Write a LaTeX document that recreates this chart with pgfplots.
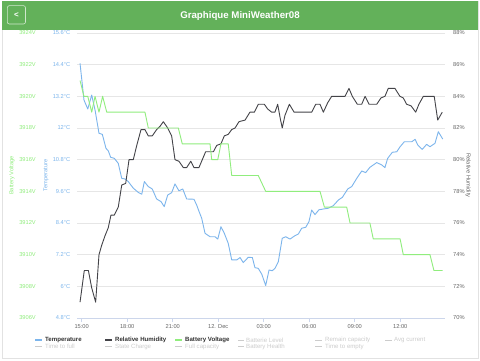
\documentclass[border=0pt]{standalone}
\usepackage{pgfplots}
\pgfplotsset{compat=1.18}
\usepackage{fontspec}
\setmainfont{Liberation Sans}
\definecolor{tempblue}{HTML}{7CB5EC}
\definecolor{humdark}{HTML}{434348}
\definecolor{battgreen}{HTML}{90ED7D}
\definecolor{gridgrey}{HTML}{E6E6E6}
\definecolor{axisline}{HTML}{CCD6EB}
\definecolor{labelgrey}{HTML}{666666}
\definecolor{hiddengrey}{HTML}{CCCCCC}
\definecolor{legtext}{HTML}{333333}
\definecolor{headergreen}{RGB}{99,177,90}
\definecolor{cardborder}{HTML}{E2E2E2}
\newcommand{\tickfont}{\fontsize{5.7}{6.5}\selectfont}
\newcommand{\legfont}{\fontsize{6.1}{7}\selectfont}

\pgfplotstableread{
h T
14.89 14.45
15.15 13.06
15.40 12.72
15.66 13.25
15.88 12.68
16.14 11.80
16.36 11.76
16.60 11.23
16.75 11.14
16.91 10.89
17.15 10.85
17.41 10.66
17.64 10.09
17.85 10.07
18.07 9.97
18.40 9.72
18.73 9.56
18.96 9.49
19.13 9.97
19.39 9.78
19.65 9.69
19.94 9.31
20.23 9.21
20.44 9.02
20.67 9.46
20.93 9.55
21.15 9.88
21.41 9.62
21.66 9.69
21.92 9.31
22.40 9.30
22.58 9.08
22.70 8.89
22.91 8.58
23.13 8.01
23.46 7.88
23.79 7.88
23.97 7.79
24.18 8.26
24.40 8.01
24.66 7.63
24.89 7.00
25.22 7.00
25.44 7.09
25.65 6.90
25.98 7.10
26.25 7.09
26.42 6.71
26.64 6.68
26.87 6.46
27.13 6.03
27.35 6.62
27.56 6.59
27.74 6.68
27.96 6.93
28.22 7.82
28.45 7.88
28.73 7.79
29.06 7.92
29.28 7.98
29.50 8.20
29.77 8.24
29.98 8.45
30.16 8.89
30.38 8.72
30.64 8.90
30.93 8.93
31.26 8.96
31.59 9.06
31.92 9.27
32.18 9.37
32.54 9.69
32.80 9.78
33.13 10.09
33.46 10.37
33.72 10.31
34.00 10.51
34.45 10.69
34.78 10.60
34.99 10.50
35.17 10.85
35.48 11.08
35.77 11.10
35.99 11.29
36.27 11.48
36.76 11.48
36.98 11.57
37.15 11.36
37.45 11.19
37.74 11.38
37.96 11.29
38.29 11.42
38.51 11.86
38.80 11.58
}\temptable

\pgfplotstableread{
h H
14.89 71.0
15.17 73.0
15.44 73.0
15.66 71.9
15.92 71.0
16.14 74.0
16.32 74.6
16.54 75.2
16.75 75.7
16.93 76.5
17.15 76.5
17.41 77.0
17.64 78.4
17.90 78.5
18.12 80.0
18.40 80.0
18.63 80.9
18.91 81.9
19.17 81.9
19.39 81.5
19.65 81.5
19.94 81.9
20.16 82.1
20.38 82.4
20.67 82.0
20.93 81.5
21.15 80.0
21.41 79.9
21.70 79.5
21.92 79.5
22.19 79.9
22.40 79.5
22.73 79.5
22.95 80.0
23.17 80.5
23.68 80.5
23.90 80.9
24.18 81.0
24.40 81.5
24.66 81.6
24.89 81.9
25.11 82.0
25.37 82.4
25.77 82.5
26.09 83.0
26.38 83.0
26.64 83.5
27.04 83.5
27.26 83.2
27.52 83.0
27.74 83.0
27.92 83.5
28.09 82.6
28.22 82.0
28.40 82.8
28.69 83.5
29.00 83.0
30.16 83.0
30.43 83.5
30.71 83.5
30.93 83.0
31.22 83.6
31.48 84.0
32.36 84.0
32.62 84.5
32.84 84.0
33.17 83.5
33.46 83.5
33.68 84.0
33.94 83.5
34.45 83.5
34.73 83.9
34.99 84.0
35.21 84.5
35.65 84.5
35.98 84.0
36.20 83.9
36.42 83.5
36.71 83.4
37.02 83.0
37.23 83.5
37.52 84.0
38.24 84.0
38.47 82.5
38.77 83.0
}\humtable

\pgfplotstableread{
h V
14.89 3921
15.15 3920
15.40 3920
15.66 3919
15.88 3920
16.14 3919
16.38 3920
16.65 3919
19.17 3919
19.39 3918
21.37 3918
21.63 3917
23.46 3917
23.57 3916
23.97 3916
24.18 3917
24.66 3917
24.89 3915
26.64 3915
27.13 3914
30.71 3914
31.00 3913
32.47 3913
32.69 3912
34.00 3912
34.22 3911
35.99 3911
36.20 3910
37.96 3910
38.22 3909
38.80 3909
}\batttable

\begin{document}
\begin{tikzpicture}
\path[use as bounding box] (0pt,0pt) rectangle (480pt,-361pt);
\fill[white] (0pt,0pt) rectangle (480pt,-361pt);
\draw[cardborder, line width=0.8pt] (2pt,-1pt) rectangle (478pt,-358.5pt);
% header
\fill[headergreen] (2pt,-1pt) rectangle (478pt,-30pt);
\draw[white, opacity=0.7, rounded corners=2pt, line width=0.6pt] (7.3pt,-5.7pt) rectangle (25.5pt,-24pt);
\node[text=white, font=\bfseries\fontsize{8}{9}\selectfont, inner sep=0pt] at (16.4pt,-15pt) {<};
\node[text=white, font=\bfseries\fontsize{9.7}{11}\selectfont, inner sep=0pt] at (240pt,-16pt) {Graphique MiniWeather08};

% temperature axis (main, with grid)
\begin{axis}[
  at={(77pt,-318pt)}, anchor=south west,
  scale only axis, width=368pt, height=285pt,
  xmin=14.69, xmax=38.95, ymin=4.8, ymax=15.6,
  axis x line*=bottom, axis y line*=left,
  x axis line style={draw=axisline, line width=0.6pt, -},
  y axis line style={draw=none},
  xtick={15,18,21,24,27,30,33,36},
  xticklabels={15:00,18:00,21:00,12. Dec,03:00,06:00,09:00,12:00},
  ytick={4.8,6,7.2,8.4,9.6,10.8,12,13.2,14.4,15.6},
  yticklabels={4.8°C,6°C,7.2°C,8.4°C,9.6°C,10.8°C,12°C,13.2°C,14.4°C,15.6°C},
  tick align=outside, major tick length=4pt,
  xtick style={draw=axisline, line width=0.6pt},
  ytick style={draw=none},
  ymajorgrids, grid style={gridgrey, line width=0.6pt},
  xticklabel style={font=\tickfont, text=labelgrey, inner sep=0pt, yshift=-2pt},
  yticklabel style={font=\tickfont, text=tempblue, anchor=east, inner sep=0pt, xshift=-2.5pt},
  clip=false,
]
\addplot[tempblue, line width=0.9pt, line join=round] table[x=h, y=T] {\temptable};
\end{axis}

% humidity axis (right)
\begin{axis}[
  at={(77pt,-318pt)}, anchor=south west,
  scale only axis, width=368pt, height=285pt,
  xmin=14.69, xmax=38.95, ymin=70, ymax=88,
  axis x line=none, axis y line*=right,
  y axis line style={draw=none},
  ytick={70,72,...,88},
  yticklabels={70\%,72\%,74\%,76\%,78\%,80\%,82\%,84\%,86\%,88\%},
  tick align=inside, ytick style={draw=none},
  yticklabel style={font=\tickfont, text=labelgrey, anchor=west, inner sep=0pt, xshift=8pt},
]
\addplot[humdark, line width=0.9pt, line join=round] table[x=h, y=H] {\humtable};
\end{axis}

% battery axis (left outer)
\begin{axis}[
  at={(77pt,-318pt)}, anchor=south west,
  scale only axis, width=368pt, height=285pt,
  xmin=14.69, xmax=38.95, ymin=3906, ymax=3924,
  axis x line=none, axis y line*=left,
  y axis line style={draw=none},
  ytick={3906,3908,...,3924},
  yticklabels={3906V,3908V,3910V,3912V,3914V,3916V,3918V,3920V,3922V,3924V},
  tick align=inside, ytick style={draw=none},
  yticklabel style={font=\tickfont, text=battgreen, anchor=east, inner sep=0pt, xshift=-41pt},
]
\addplot[battgreen, line width=0.9pt, line join=round] table[x=h, y=V] {\batttable};
\end{axis}

% axis titles
\node[rotate=90, text=battgreen, font=\tickfont, inner sep=0pt] at (12pt,-175.5pt) {Battery Voltage};
\node[rotate=90, text=tempblue, font=\tickfont, inner sep=0pt] at (46pt,-175.5pt) {Temperature};
\node[rotate=-90, text=labelgrey, font=\tickfont, inner sep=0pt] at (468pt,-175.5pt) {Relative Humidity};

% legend
\begin{scope}[font=\legfont]
\draw[tempblue, line width=1.3pt] (35pt,-340pt) -- (42pt,-340pt);
\node[anchor=west, inner sep=0pt, text=legtext, font=\legfont\bfseries] at (45pt,-340pt) {Temperature};
\draw[humdark, line width=1.3pt] (105pt,-340pt) -- (112pt,-340pt);
\node[anchor=west, inner sep=0pt, text=legtext, font=\legfont\bfseries] at (115pt,-340pt) {Relative Humidity};
\draw[battgreen, line width=1.3pt] (175pt,-340pt) -- (182pt,-340pt);
\node[anchor=west, inner sep=0pt, text=legtext, font=\legfont\bfseries] at (185pt,-340pt) {Battery Voltage};
\draw[hiddengrey, line width=0.8pt] (238pt,-340pt) -- (244pt,-340pt);
\node[anchor=west, inner sep=0pt, text=hiddengrey] at (246pt,-340pt) {Batterie Level};
\draw[hiddengrey, line width=0.8pt] (315pt,-340pt) -- (322pt,-340pt);
\node[anchor=west, inner sep=0pt, text=hiddengrey] at (325pt,-340pt) {Remain capacity};
\draw[hiddengrey, line width=0.8pt] (385pt,-340pt) -- (392pt,-340pt);
\node[anchor=west, inner sep=0pt, text=hiddengrey] at (394pt,-340pt) {Avg current};
\draw[hiddengrey, line width=0.8pt] (35pt,-346.5pt) -- (42pt,-346.5pt);
\node[anchor=west, inner sep=0pt, text=hiddengrey] at (45pt,-346.5pt) {Time to full};
\draw[hiddengrey, line width=0.8pt] (105pt,-346.5pt) -- (112pt,-346.5pt);
\node[anchor=west, inner sep=0pt, text=hiddengrey] at (115pt,-346.5pt) {State Charge};
\draw[hiddengrey, line width=0.8pt] (175pt,-346.5pt) -- (182pt,-346.5pt);
\node[anchor=west, inner sep=0pt, text=hiddengrey] at (185pt,-346.5pt) {Full capacity};
\draw[hiddengrey, line width=0.8pt] (238pt,-346.5pt) -- (244pt,-346.5pt);
\node[anchor=west, inner sep=0pt, text=hiddengrey] at (246pt,-346.5pt) {Battery Health};
\draw[hiddengrey, line width=0.8pt] (315pt,-346.5pt) -- (322pt,-346.5pt);
\node[anchor=west, inner sep=0pt, text=hiddengrey] at (325pt,-346.5pt) {Time to empty};
\end{scope}
\end{tikzpicture}
\end{document}
